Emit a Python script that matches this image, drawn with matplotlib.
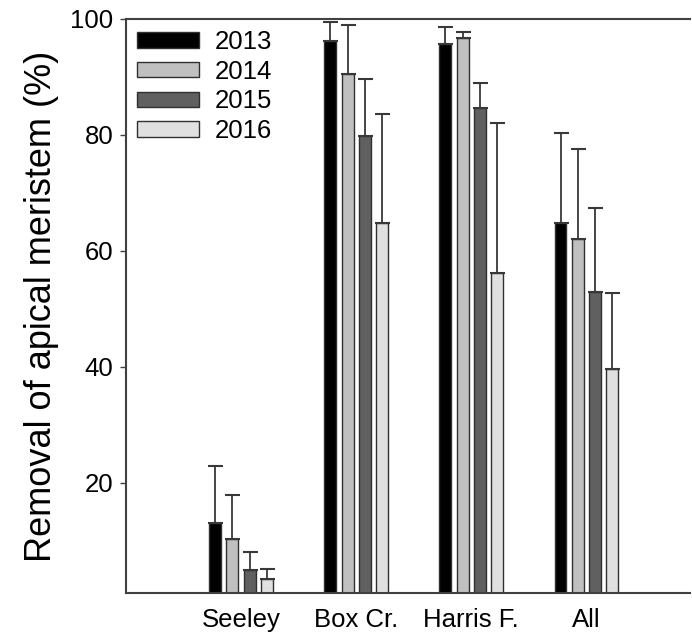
import matplotlib
matplotlib.use("Agg")
import matplotlib.pyplot as plt
import numpy as np

plt.rcParams['font.family'] = ['Liberation Sans', 'DejaVu Sans']

sites = ["Seeley", "Box Cr.", "Harris F.", "All"]
years = ["2013", "2014", "2015", "2016"]
means = {
    "2013": [13.1, 96.2, 95.7, 64.8],
    "2014": [10.3, 90.5, 96.7, 62.1],
    "2015": [5.0, 79.8, 84.7, 52.9],
    "2016": [3.4, 64.8, 56.2, 39.7],
}
upper = {
    "2013": [22.9, 99.5, 98.6, 80.3],
    "2014": [17.9, 99.0, 97.8, 77.6],
    "2015": [8.1, 89.7, 89.0, 67.4],
    "2016": [5.2, 83.6, 82.1, 52.8],
}
colors = ["#000000", "#c0c0c0", "#606060", "#e0e0e0"]
yticks = [20, 40, 60, 80, 100]

fig = plt.figure(figsize=(6.92, 6.40), dpi=100)
ax = fig.add_axes([126/692, 1-593/640, (690-126)/692, (593-19)/640])

x = np.arange(len(sites))
offsets = [-0.225, -0.075, 0.075, 0.225]
width = 0.104
for yr, off, c in zip(years, offsets, colors):
    m = np.array(means[yr])
    err = np.array(upper[yr]) - m
    ax.bar(x + off, m, width, color=c, edgecolor="#303030", linewidth=1.0, label=yr,
           yerr=[np.zeros_like(err), err], error_kw=dict(ecolor="#383838", elinewidth=1.3,
           capsize=5.4, capthick=1.5), zorder=2)

ax.set_xlim(-1.0, 3.9)
ax.set_ylim(1.0, 100)
ax.set_xticks(x)
ax.set_xticklabels(sites, fontsize=18.5)
ax.set_yticks(yticks)
ax.set_yticklabels([str(t) for t in yticks], fontsize=18.5)
ax.tick_params(axis='x', length=0, pad=11)
ax.tick_params(axis='y', direction='out', length=4, width=1, color="#404040", pad=5)
ax.set_ylabel("Removal of apical meristem (%)", fontsize=26, labelpad=8)
for s in ["left", "bottom", "top"]:
    ax.spines[s].set_color("#404040")
    ax.spines[s].set_linewidth(1.5)
ax.spines["right"].set_visible(False)

leg = ax.legend(loc="upper left", frameon=False, fontsize=18.5, handlelength=2.4,
                handleheight=0.55, handletextpad=0.6, labelspacing=0.22,
                borderaxespad=0.3, bbox_to_anchor=(-0.012, 1.012))

fig.savefig("out.png", dpi=100)
